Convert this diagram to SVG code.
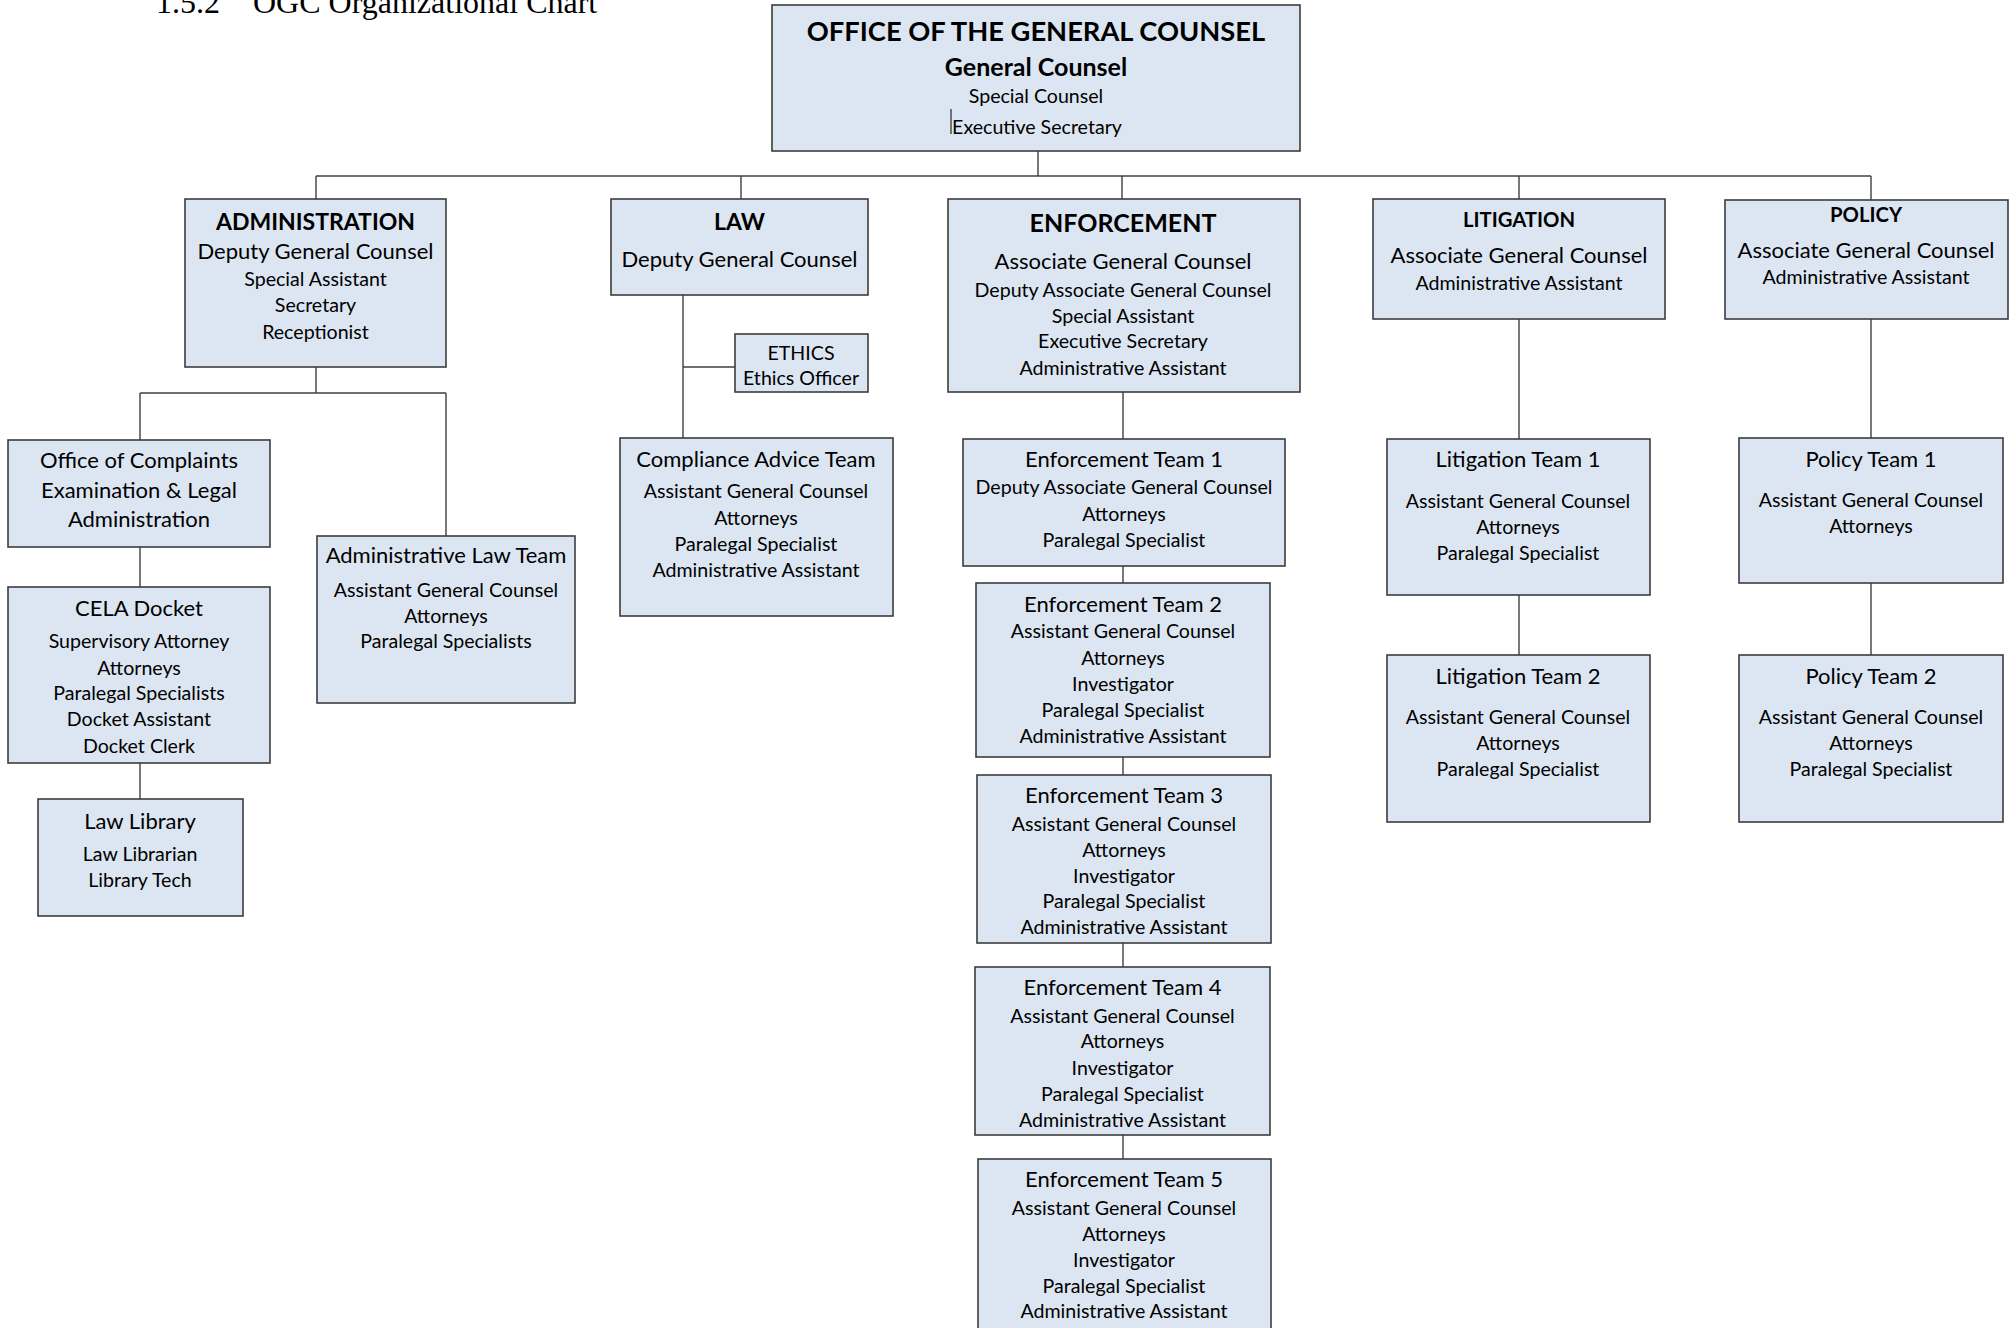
<svg xmlns="http://www.w3.org/2000/svg" width="2016" height="1328" viewBox="0 0 2016 1328">
<style>
.box{fill:#dce6f2;stroke:#3c3c3c;stroke-width:1.6}
.ln{stroke:#404040;stroke-width:1.4;fill:none}
text{font-family:Lato,"Liberation Sans",sans-serif;fill:#000;text-anchor:middle}
.t0{font-size:27.3px;font-weight:bold}
.tg{font-size:25px;font-weight:bold}
.tb{font-size:23px;font-weight:bold}
.tb2{font-size:25px;font-weight:bold}
.tb3{font-size:20.3px;font-weight:bold}
.h{font-size:22px}
.s{font-size:19.6px}
.ttl{font-family:"Liberation Serif",serif;font-size:32px;text-anchor:start}
</style>
<rect width="2016" height="1328" fill="#fff"/>
<text class="ttl" x="156" y="13">1.5.2</text>
<text class="ttl" x="253" y="13">OGC Organizational Chart</text>
<g id="connectors">
<path class="ln" d="M1038 151V176M316 176H1871M316 176V199M741 176V199M1122 176V199M1519 176V199M1871 176V200"/>
<path class="ln" d="M316 367V393M140 393H446M140 393V440M446 393V536M140 547V587M140 763V799"/>
<path class="ln" d="M683 295V438M683 367H735"/>
<path class="ln" d="M1123 392V439M1123 566V583M1123 757V775M1123 943V967M1123 1135V1159"/>
<path class="ln" d="M1519 319V439M1519 595V655M1871 319V438M1871 583V655"/>
</g>
<g id="ogc">
<rect class="box" x="772" y="5" width="528" height="146"/>
<text class="t0" x="1036" y="41">OFFICE OF THE GENERAL COUNSEL</text>
<text class="tg" x="1036" y="76">General Counsel</text>
<text class="s" x="1036" y="103">Special Counsel</text>
<text class="s" x="1037" y="134">Executive Secretary</text>
<line x1="951" y1="109" x2="951" y2="134" stroke="#000" stroke-width="1"/>
</g>
<g id="administration">
<rect class="box" x="185" y="199" width="261" height="168"/>
<text class="tb" x="315.5" y="230">ADMINISTRATION</text>
<text class="h" x="315.5" y="259">Deputy General Counsel</text>
<text class="s" x="315.5" y="286">Special Assistant</text>
<text class="s" x="315.5" y="312">Secretary</text>
<text class="s" x="315.5" y="339">Receptionist</text>
</g>
<g id="law">
<rect class="box" x="611" y="199" width="257" height="96"/>
<text class="tb" x="739.5" y="230">LAW</text>
<text class="h" x="739.5" y="267">Deputy General Counsel</text>
</g>
<g id="enforcement">
<rect class="box" x="948" y="199" width="352" height="193"/>
<text class="tb2" x="1123" y="232">ENFORCEMENT</text>
<text class="h" x="1123" y="269">Associate General Counsel</text>
<text class="s" x="1123" y="297">Deputy Associate General Counsel</text>
<text class="s" x="1123" y="323">Special Assistant</text>
<text class="s" x="1123" y="348">Executive Secretary</text>
<text class="s" x="1123" y="375">Administrative Assistant</text>
</g>
<g id="litigation">
<rect class="box" x="1373" y="199" width="292" height="120"/>
<text class="tb3" x="1519" y="227">LITIGATION</text>
<text class="h" x="1519" y="263">Associate General Counsel</text>
<text class="s" x="1519" y="290">Administrative Assistant</text>
</g>
<g id="policy">
<rect class="box" x="1725" y="200" width="283" height="119"/>
<text class="tb3" x="1866" y="222">POLICY</text>
<text class="h" x="1866" y="258">Associate General Counsel</text>
<text class="s" x="1866" y="284">Administrative Assistant</text>
</g>
<g id="complaints">
<rect class="box" x="8" y="440" width="262" height="107"/>
<text class="h" x="139" y="468">Office of Complaints</text>
<text class="h" x="139" y="498">Examination &amp; Legal</text>
<text class="h" x="139" y="527">Administration</text>
</g>
<g id="cela-docket">
<rect class="box" x="8" y="587" width="262" height="176"/>
<text class="h" x="139" y="616">CELA Docket</text>
<text class="s" x="139" y="648">Supervisory Attorney</text>
<text class="s" x="139" y="675">Attorneys</text>
<text class="s" x="139" y="700">Paralegal Specialists</text>
<text class="s" x="139" y="726">Docket Assistant</text>
<text class="s" x="139" y="753">Docket Clerk</text>
</g>
<g id="law-library">
<rect class="box" x="38" y="799" width="205" height="117"/>
<text class="h" x="140" y="829">Law Library</text>
<text class="s" x="140" y="861">Law Librarian</text>
<text class="s" x="140" y="887">Library Tech</text>
</g>
<g id="admin-law-team">
<rect class="box" x="317" y="536" width="258" height="167"/>
<text class="h" x="446" y="563">Administrative Law Team</text>
<text class="s" x="446" y="597">Assistant General Counsel</text>
<text class="s" x="446" y="623">Attorneys</text>
<text class="s" x="446" y="648">Paralegal Specialists</text>
</g>
<g id="ethics">
<rect class="box" x="735" y="334" width="133" height="58"/>
<text class="s" x="801" y="360">ETHICS</text>
<text class="s" x="801" y="385">Ethics Officer</text>
</g>
<g id="compliance">
<rect class="box" x="620" y="438" width="273" height="178"/>
<text class="h" x="756" y="467">Compliance Advice Team</text>
<text class="s" x="756" y="498">Assistant General Counsel</text>
<text class="s" x="756" y="525">Attorneys</text>
<text class="s" x="756" y="551">Paralegal Specialist</text>
<text class="s" x="756" y="577">Administrative Assistant</text>
</g>
<g id="enf-team-1">
<rect class="box" x="963" y="439" width="322" height="127"/>
<text class="h" x="1124" y="467">Enforcement Team 1</text>
<text class="s" x="1124" y="494">Deputy Associate General Counsel</text>
<text class="s" x="1124" y="521">Attorneys</text>
<text class="s" x="1124" y="547">Paralegal Specialist</text>
</g>
<g id="enf-team-2">
<rect class="box" x="976" y="583" width="294" height="174"/>
<text class="h" x="1123" y="612">Enforcement Team 2</text>
<text class="s" x="1123" y="638">Assistant General Counsel</text>
<text class="s" x="1123" y="665">Attorneys</text>
<text class="s" x="1123" y="691">Investigator</text>
<text class="s" x="1123" y="717">Paralegal Specialist</text>
<text class="s" x="1123" y="743">Administrative Assistant</text>
</g>
<g id="enf-team-3">
<rect class="box" x="977" y="775" width="294" height="168"/>
<text class="h" x="1124" y="803">Enforcement Team 3</text>
<text class="s" x="1124" y="831">Assistant General Counsel</text>
<text class="s" x="1124" y="857">Attorneys</text>
<text class="s" x="1124" y="883">Investigator</text>
<text class="s" x="1124" y="908">Paralegal Specialist</text>
<text class="s" x="1124" y="934">Administrative Assistant</text>
</g>
<g id="enf-team-4">
<rect class="box" x="975" y="967" width="295" height="168"/>
<text class="h" x="1122.5" y="995">Enforcement Team 4</text>
<text class="s" x="1122.5" y="1023">Assistant General Counsel</text>
<text class="s" x="1122.5" y="1048">Attorneys</text>
<text class="s" x="1122.5" y="1075">Investigator</text>
<text class="s" x="1122.5" y="1101">Paralegal Specialist</text>
<text class="s" x="1122.5" y="1127">Administrative Assistant</text>
</g>
<g id="enf-team-5">
<rect class="box" x="978" y="1159" width="293" height="200"/>
<text class="h" x="1124" y="1187">Enforcement Team 5</text>
<text class="s" x="1124" y="1215">Assistant General Counsel</text>
<text class="s" x="1124" y="1241">Attorneys</text>
<text class="s" x="1124" y="1267">Investigator</text>
<text class="s" x="1124" y="1293">Paralegal Specialist</text>
<text class="s" x="1124" y="1318">Administrative Assistant</text>
</g>
<g id="lit-team-1">
<rect class="box" x="1387" y="439" width="263" height="156"/>
<text class="h" x="1518" y="467">Litigation Team 1</text>
<text class="s" x="1518" y="508">Assistant General Counsel</text>
<text class="s" x="1518" y="534">Attorneys</text>
<text class="s" x="1518" y="560">Paralegal Specialist</text>
</g>
<g id="lit-team-2">
<rect class="box" x="1387" y="655" width="263" height="167"/>
<text class="h" x="1518" y="684">Litigation Team 2</text>
<text class="s" x="1518" y="724">Assistant General Counsel</text>
<text class="s" x="1518" y="750">Attorneys</text>
<text class="s" x="1518" y="776">Paralegal Specialist</text>
</g>
<g id="policy-team-1">
<rect class="box" x="1739" y="438" width="264" height="145"/>
<text class="h" x="1871" y="467">Policy Team 1</text>
<text class="s" x="1871" y="507">Assistant General Counsel</text>
<text class="s" x="1871" y="533">Attorneys</text>
</g>
<g id="policy-team-2">
<rect class="box" x="1739" y="655" width="264" height="167"/>
<text class="h" x="1871" y="684">Policy Team 2</text>
<text class="s" x="1871" y="724">Assistant General Counsel</text>
<text class="s" x="1871" y="750">Attorneys</text>
<text class="s" x="1871" y="776">Paralegal Specialist</text>
</g>
</svg>
